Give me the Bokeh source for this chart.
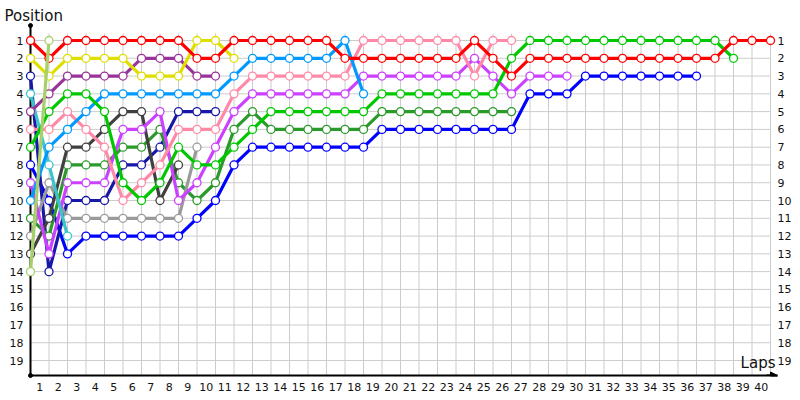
from bokeh.plotting import figure
from bokeh.models import (Range1d, FixedTicker, CustomJSTickFormatter, LinearAxis,
                          Label, Arrow, NormalHead)
from bokeh.embed import file_html
from bokeh.resources import INLINE

# ---------------- data ----------------
laps_all = list(range(0, 41))
position_ticks = list(range(1, 20))
lap_tick_labels = [str(i) for i in range(1, 41)]

# position per lap, starting at lap 0 (grid)
red = [1, 2, 1, 1, 1, 1, 1, 1, 1, 2, 2, 1, 1, 1, 1, 1, 1, 2, 2, 2, 2, 2, 2, 2, 1, 2, 3,
       2, 2, 2, 2, 2, 2, 2, 2, 2, 2, 2, 1, 1, 1]
green = [7, 5, 4, 4, 5, 9, 10, 9, 7, 8, 8, 7, 6, 5, 5, 5, 5, 5, 5, 4, 4, 4, 4, 4, 4, 4, 2,
         1, 1, 1, 1, 1, 1, 1, 1, 1, 1, 1, 2]
blue = [8, 10, 13, 12, 12, 12, 12, 12, 12, 11, 10, 8, 7, 7, 7, 7, 7, 7, 7, 6, 6, 6, 6, 6, 6,
        6, 6, 4, 4, 4, 3, 3, 3, 3, 3, 3, 3]
violet = [9, 13, 9, 9, 9, 6, 6, 5, 10, 9, 7, 5, 4, 4, 4, 4, 4, 4, 3, 3, 3, 3, 3, 3, 2, 3, 4,
          3, 3, 3]
pink = [6, 6, 5, 6, 7, 10, 9, 8, 6, 6, 6, 4, 3, 3, 3, 3, 3, 3, 1, 1, 1, 1, 1, 1, 3, 1, 1]
dark_green = [11, 12, 8, 8, 8, 7, 7, 6, 9, 10, 9, 6, 5, 6, 6, 6, 6, 6, 6, 5, 5, 5, 5, 5, 5,
              5, 5]
light_blue = [10, 7, 6, 5, 4, 4, 4, 4, 4, 4, 4, 3, 2, 2, 2, 2, 2, 1, 4]
yellow = [2, 3, 2, 2, 2, 2, 3, 3, 3, 1, 1, 2]
purple = [5, 4, 3, 3, 3, 3, 2, 2, 2, 3, 3]
navy = [3, 14, 10, 10, 10, 8, 8, 7, 5, 5, 5]
gray = [12, 9, 11, 11, 11, 11, 11, 11, 11, 7]
dark_gray = [13, 11, 7, 7, 6, 5, 5, 10, 8]
cyan = [4, 8, 12]
light_green = [14, 1]

drivers = [
    ("blue", "#0000ff", blue),
    ("navy", "#1818a8", navy),
    ("dark_green", "#2a9a2a", dark_green),
    ("gray", "#9a9a9a", gray),
    ("dark_gray", "#404040", dark_gray),
    ("violet", "#cc40ff", violet),
    ("pink", "#ff8aa8", pink),
    ("cyan", "#3cc4cc", cyan),
    ("light_blue", "#0099ff", light_blue),
    ("purple", "#993399", purple),
    ("green", "#00c800", green),
    ("yellow", "#dede00", yellow),
    ("red", "#ff0000", red),
    ("light_green", "#a8d06a", light_green),
]

# ---------------- geometry ----------------
FONT = "DejaVu Sans"
W, H = 798, 398
FRAME_L, FRAME_R, FRAME_T, FRAME_B = 30, 777, 25, 375
PX_LAP = 18.5
PX_POS = 17.78
x_end = (FRAME_R - FRAME_L) / PX_LAP
y_top = 1 - (40 - FRAME_T) / PX_POS
y_bottom = 1 + (FRAME_B - 40) / PX_POS
y_grid_top = 1 - 7 / PX_POS

p = figure(width=W, height=H, output_backend="svg", toolbar_location=None,
           x_range=Range1d(0, x_end), y_range=Range1d(y_bottom, y_top),
           min_border_left=FRAME_L, min_border_right=W - FRAME_R,
           min_border_top=FRAME_T, min_border_bottom=H - FRAME_B, title="Position")
p.outline_line_color = None
p.background_fill_color = "white"
p.border_fill_color = "white"
p.xgrid.visible = False
p.ygrid.visible = False

p.title.align = "left"
p.title.offset = -26
p.title.standoff = 2
p.title.text_font = FONT
p.title.text_font_size = "15px"
p.title.text_font_style = "normal"
p.title.text_color = "#111111"

# grid
p.segment(x0=laps_all[1:], y0=[y_grid_top] * 40, x1=laps_all[1:], y1=[y_bottom] * 40,
          line_color="#cccccc", line_width=1)
p.segment(x0=[0] * 19, y0=position_ticks, x1=[40] * 19, y1=position_ticks,
          line_color="#cccccc", line_width=1)

# axes
def style_axis(ax, standoff):
    ax.major_tick_line_color = None
    ax.minor_tick_line_color = None
    ax.major_tick_out = 0
    ax.major_tick_in = 0
    ax.major_label_standoff = standoff
    ax.major_label_text_font = FONT
    ax.major_label_text_font_size = "11px"
    ax.major_label_text_color = "#111111"

yax = p.yaxis[0]
yax.ticker = FixedTicker(ticks=position_ticks)
style_axis(yax, 7)
yax.axis_line_color = "black"
yax.axis_line_width = 2

rax = LinearAxis(ticker=FixedTicker(ticks=position_ticks))
style_axis(rax, 0)
rax.axis_line_color = None
p.add_layout(rax, "right")

xax = p.xaxis[0]
xax.ticker = FixedTicker(ticks=[i - 0.5 for i in range(1, 41)])
xax.formatter = CustomJSTickFormatter(args=dict(labels=lap_tick_labels),
                                      code="return labels[Math.round(tick - 0.5)];")
style_axis(xax, 7)
xax.axis_line_color = "black"
xax.axis_line_width = 2

p.add_layout(Arrow(end=NormalHead(size=7, fill_color="black", line_color="black"),
                   x_start=x_end - 0.6, y_start=y_bottom, x_end=x_end, y_end=y_bottom,
                   line_color="black", line_width=2))
p.scatter(x=[0, 0], y=[y_top, y_bottom], size=4, color="black", level="overlay")

# series
for name, color, vals in drivers:
    xs = laps_all[:len(vals)]
    p.line(xs, vals, line_color=color, line_width=3.2, level="overlay")
    p.scatter(xs, vals, size=8, fill_color="white", line_color=color, line_width=1.3,
              level="overlay")

p.add_layout(Label(x=40.27, y=1 + (371 - 40) / PX_POS, text="Laps", text_align="right",
                   text_baseline="bottom", text_font=FONT, text_font_size="15px",
                   text_color="#111111"))

open("out.html", "w").write(file_html(p, INLINE))
